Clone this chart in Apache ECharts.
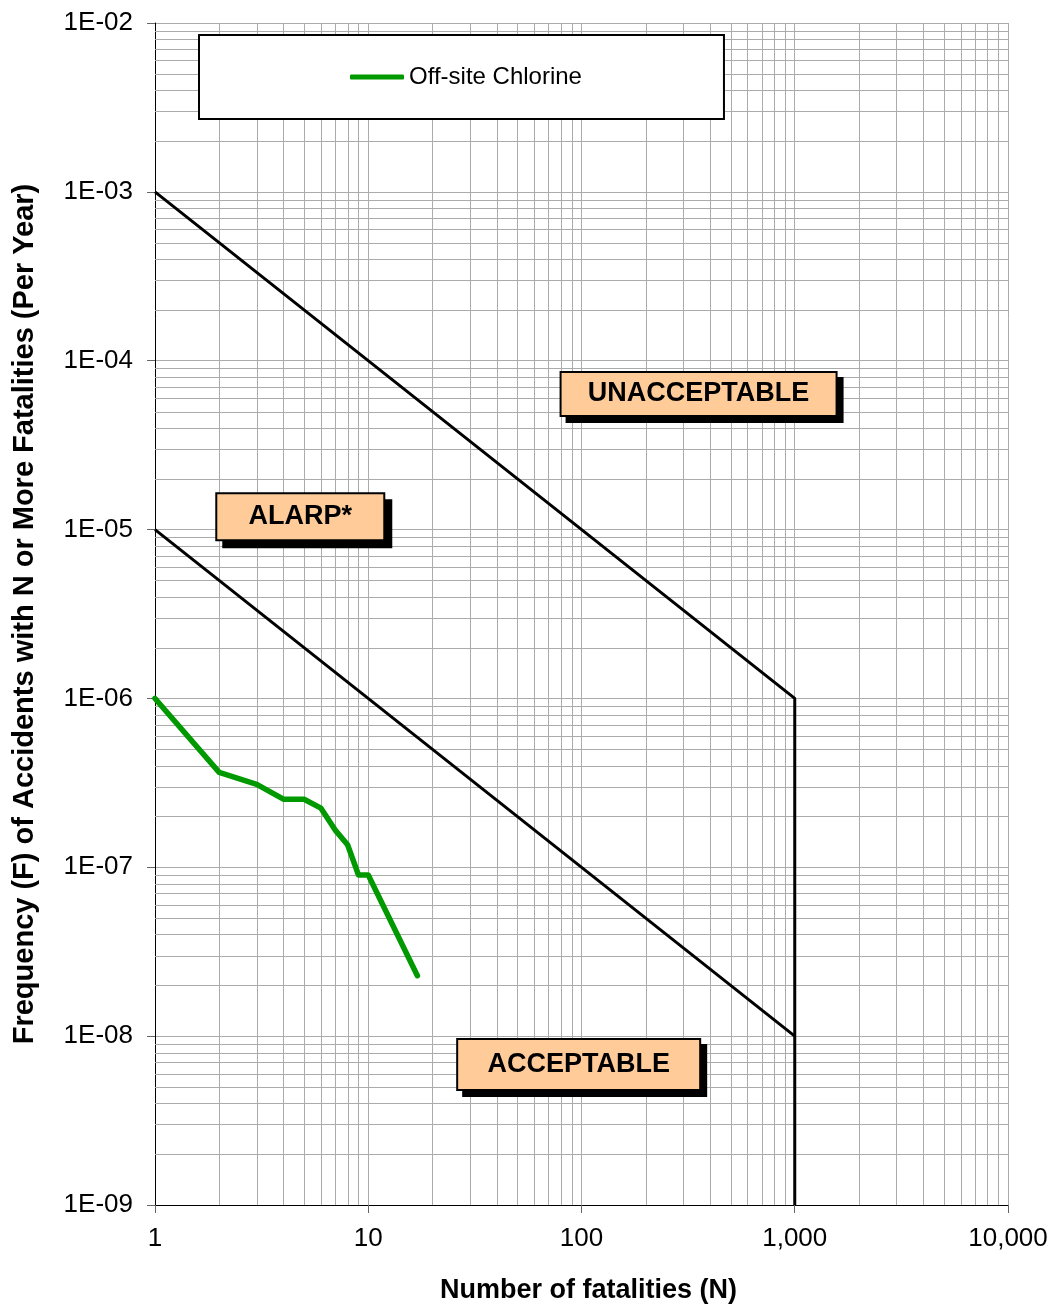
<!DOCTYPE html>
<html><head><meta charset="utf-8">
<script src="https://cdn.jsdelivr.net/npm/echarts@6/dist/echarts.min.js"></script>
<style>html,body{margin:0;padding:0;background:#fff}#c{width:1059px;height:1306px}</style>
</head><body><div id="c"></div>
<script>
// ---- data ----
const chlorineN = [1, 2, 3, 4, 5, 6, 7, 8, 9, 10, 17];
const chlorineF = [1.0e-6, 3.65e-7, 3.1e-7, 2.53e-7, 2.53e-7, 2.24e-7, 1.66e-7, 1.36e-7, 9.0e-8, 9.0e-8, 2.28e-8];
const upperN = [1, 1000, 1000];
const upperF = [1e-3, 1e-6, 1e-9];
const lowerN = [1, 1000];
const lowerF = [1e-5, 1e-8];
const regionLabels = ['UNACCEPTABLE', 'ALARP*', 'ACCEPTABLE'];
const regionN = [354, 4.8, 97];
const regionF = [6.35e-5, 1.19e-5, 6.8e-9];
const xTickLabels = ['1', '10', '100', '1,000', '10,000'];
const yTickLabels = ['1E-09', '1E-08', '1E-07', '1E-06', '1E-05', '1E-04', '1E-03', '1E-02'];

// minor gridline values (2..9 within each decade)
const xMinor = [], yMinor = [];
[1, 10, 100, 1000].forEach(d => { for (let m = 2; m <= 9; m++) xMinor.push(d * m); });
[1e-9, 1e-8, 1e-7, 1e-6, 1e-5, 1e-4, 1e-3].forEach(d => { for (let m = 2; m <= 9; m++) yMinor.push(d * m); });

const zip = (a, b) => a.map((v, i) => [v, b[i]]);
const gridColor = '#ababab';
const font = 'Arial, "Liberation Sans", sans-serif';

const boxLabel = (w, h, off) => ({
  show: true, position: 'inside', formatter: p => regionLabels[p.dataIndex],
  fontFamily: font, fontWeight: 'bold', fontSize: 27, color: '#000',
  backgroundColor: '#FFCC99', borderColor: '#000', borderWidth: 2,
  width: w, height: h, lineHeight: h, align: 'center', verticalAlign: 'middle',
  shadowColor: '#000', shadowOffsetX: off, shadowOffsetY: off, shadowBlur: 0,
  textShadowColor: 'transparent', textShadowBlur: 0
});

const gridData = xMinor.map(v => [v, 1e-9, 0]).concat(yMinor.map(v => [1, v, 1]));

const chart = echarts.init(document.getElementById('c'), null, {renderer: 'canvas'});
chart.setOption({
  animation: false,
  backgroundColor: '#fff',
  grid: {left: 155, right: 51, top: 23, bottom: 101, containLabel: false, outerBoundsMode: 'none'},
  legend: {
    data: ['Off-site Chlorine'],
    left: 199, top: 35,
    padding: [30, 142, 30, 151],
    backgroundColor: '#fff', borderColor: '#000', borderWidth: 2,
    itemWidth: 54, itemHeight: 5,
    icon: 'roundRect',
    textStyle: {fontFamily: font, fontSize: 24, color: '#000'}
  },
  xAxis: {
    type: 'log', logBase: 10, min: 1, max: 10000, interval: 1,
    name: 'Number of fatalities (N)', nameLocation: 'middle', nameGap: 72,
    nameTextStyle: {fontFamily: font, fontWeight: 'bold', fontSize: 27, color: '#000', padding: [0, 0, 0, 14]},
    axisLine: {show: true, lineStyle: {color: '#000', width: 1}},
    axisTick: {show: true, inside: false, length: 8, lineStyle: {color: '#666'}},
    axisLabel: {fontFamily: font, fontSize: 26, color: '#000', margin: 21,
      formatter: v => xTickLabels[Math.round(Math.log10(v))]},
    splitLine: {show: true, lineStyle: {color: gridColor, width: 1}}
  },
  yAxis: {
    type: 'log', logBase: 10, min: 1e-9, max: 1e-2, interval: 1,
    name: 'Frequency (F) of Accidents with N or More Fatalities (Per Year)',
    nameLocation: 'middle', nameGap: 116, nameRotate: 90,
    nameTextStyle: {fontFamily: font, fontWeight: 'bold', fontSize: 29, color: '#000'},
    axisLine: {show: true, lineStyle: {color: '#000', width: 1}},
    axisTick: {show: true, inside: false, length: 8, lineStyle: {color: '#666'}},
    axisLabel: {fontFamily: font, fontSize: 26, color: '#000', margin: 22,
      formatter: v => yTickLabels[Math.round(Math.log10(v)) + 9]},
    splitLine: {show: true, lineStyle: {color: gridColor, width: 1}}
  },
  series: [
    {
      name: 'minor grid', type: 'custom', z: 1, silent: true,
      data: gridData,
      renderItem: (params, api) => {
        const vertical = api.value(2) === 0;
        let p1, p2;
        if (vertical) { p1 = api.coord([api.value(0), 1e-9]); p2 = api.coord([api.value(0), 1e-2]); }
        else { p1 = api.coord([1, api.value(1)]); p2 = api.coord([10000, api.value(1)]); }
        const r = a => Math.round(a) + 0.5;
        return {
          type: 'line',
          shape: vertical
            ? {x1: r(p1[0]), y1: p1[1], x2: r(p2[0]), y2: p2[1]}
            : {x1: p1[0], y1: r(p1[1]), x2: p2[0], y2: r(p2[1])},
          style: {stroke: gridColor, lineWidth: 1}
        };
      }
    },
    {
      name: 'Upper criterion', type: 'line', data: zip(upperN, upperF), z: 3,
      symbol: 'none', lineStyle: {color: '#000', width: 3}, silent: true
    },
    {
      name: 'Lower criterion', type: 'line', data: zip(lowerN, lowerF), z: 3,
      symbol: 'none', lineStyle: {color: '#000', width: 3}, silent: true
    },
    {
      name: 'Off-site Chlorine', type: 'line', data: zip(chlorineN, chlorineF), z: 4,
      symbol: 'none', itemStyle: {color: '#009900'},
      lineStyle: {color: '#009900', width: 5.5, cap: 'round', join: 'round'}, silent: true
    },
    {
      name: 'regions', type: 'scatter', z: 5, symbolSize: 0, silent: true,
      itemStyle: {opacity: 1},
      emphasis: {disabled: true},
      data: [
        {value: [regionN[0], regionF[0]], label: boxLabel(274, 42, 6)},
        {value: [regionN[1], regionF[1]], label: boxLabel(166, 45, 7)},
        {value: [regionN[2], regionF[2]], label: boxLabel(241, 49, 6)}
      ],
      label: {show: true}
    }
  ]
});
</script></body></html>
